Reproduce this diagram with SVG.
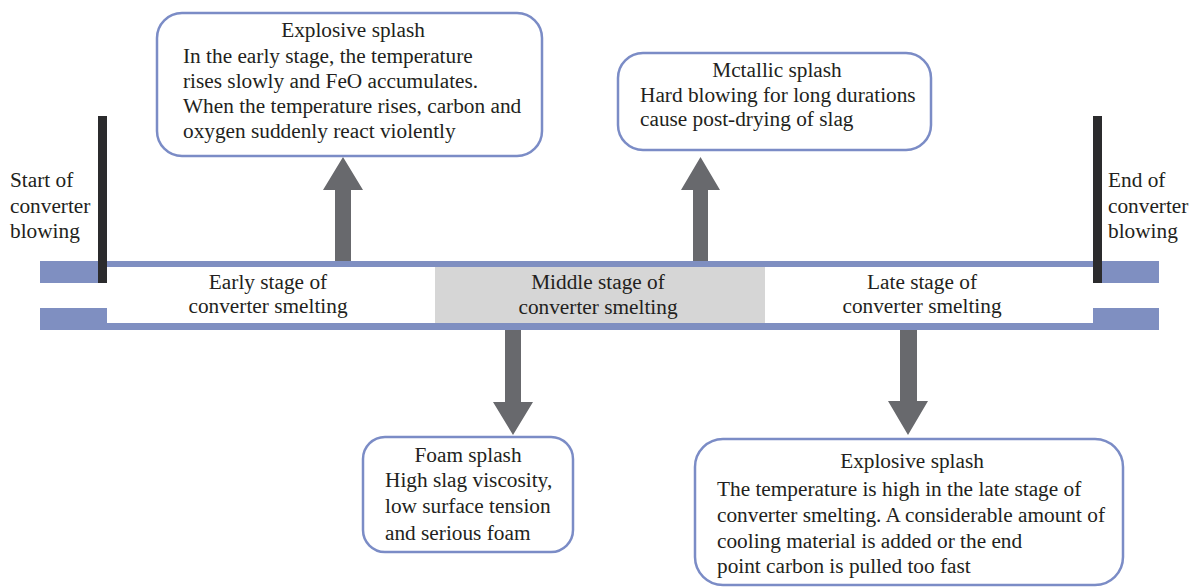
<svg xmlns="http://www.w3.org/2000/svg" width="1190" height="587" viewBox="0 0 1190 587">
<style>
.box{fill:#fff;stroke:#7b8cc6;stroke-width:2.5}
.band{fill:#7f8fc1}
.bar{fill:#2b2b2d}
.arr{fill:#68696d}
</style>
<rect width="1190" height="587" fill="#fff"/>
<g id="timeline">
<rect class="band" x="40" y="261" width="1119" height="6"/>
<rect class="band" x="40" y="323" width="1119" height="7"/>
<rect class="band" x="40" y="261" width="67" height="22"/>
<rect class="band" x="40" y="308" width="67" height="22"/>
<rect class="band" x="1093" y="261" width="66" height="22"/>
<rect class="band" x="1093" y="308" width="66" height="22"/>
<rect x="435" y="267" width="330" height="56" fill="#d6d6d6"/>
<rect class="bar" x="98" y="116" width="9" height="167"/>
<rect class="bar" x="1093" y="116" width="9" height="167"/>
</g>
<g id="connectors">
<polygon class="arr" points="335,261 351,261 351,190 363,190 343,157 323,190 335,190"/>
<polygon class="arr" points="693,261 708,261 708,190 720,190 700.5,157 681,190 693,190"/>
<polygon class="arr" points="505,330 521,330 521,402 533,402 513,435 493,402 505,402"/>
<polygon class="arr" points="900,330 917,330 917,401 928,401 908,435 888,401 900,401"/>
</g>
<g font-family="Liberation Serif, Times New Roman, serif" font-size="21.3" fill="#231f20">
<g id="start-label">
<text x="10" y="187">Start of</text>
<text x="10" y="213">converter</text>
<text x="10" y="238">blowing</text>
</g>
<g id="end-label">
<text x="1108" y="187">End of</text>
<text x="1108" y="213">converter</text>
<text x="1108" y="238">blowing</text>
</g>
<g id="early-stage" text-anchor="middle">
<text x="268" y="289">Early stage of</text>
<text x="268" y="313">converter smelting</text>
</g>
<g id="middle-stage" text-anchor="middle">
<text x="598" y="289">Middle stage of</text>
<text x="598" y="314">converter smelting</text>
</g>
<g id="late-stage" text-anchor="middle">
<text x="922" y="289">Late stage of</text>
<text x="922" y="313">converter smelting</text>
</g>
<g id="box-explosive-early">
<rect class="box" x="157" y="13" width="385" height="143" rx="25"/>
<text text-anchor="middle" x="353" y="37">Explosive splash</text>
<text x="183" y="63">In the early stage, the temperature</text>
<text x="183" y="88">rises slowly and FeO accumulates.</text>
<text x="183" y="113">When the temperature rises, carbon and</text>
<text x="183" y="138">oxygen suddenly react violently</text>
</g>
<g id="box-metallic">
<rect class="box" x="618" y="53" width="313" height="97" rx="25"/>
<text text-anchor="middle" x="777" y="77">Mctallic splash</text>
<text x="640" y="102">Hard blowing for long durations</text>
<text x="640" y="126">cause post-drying of slag</text>
</g>
<g id="box-foam">
<rect class="box" x="363" y="437" width="210" height="115" rx="22"/>
<text text-anchor="middle" x="468" y="462">Foam splash</text>
<text x="385" y="487">High slag viscosity,</text>
<text x="385" y="513">low surface tension</text>
<text x="385" y="540">and serious foam</text>
</g>
<g id="box-explosive-late">
<rect class="box" x="695" y="439" width="428" height="146" rx="28"/>
<text text-anchor="middle" x="912" y="468">Explosive splash</text>
<text x="717" y="496">The temperature is high in the late stage of</text>
<text x="717" y="522">converter smelting. A considerable amount of</text>
<text x="717" y="548">cooling material is added or the end</text>
<text x="717" y="573">point carbon is pulled too fast</text>
</g>
</g>
</svg>
